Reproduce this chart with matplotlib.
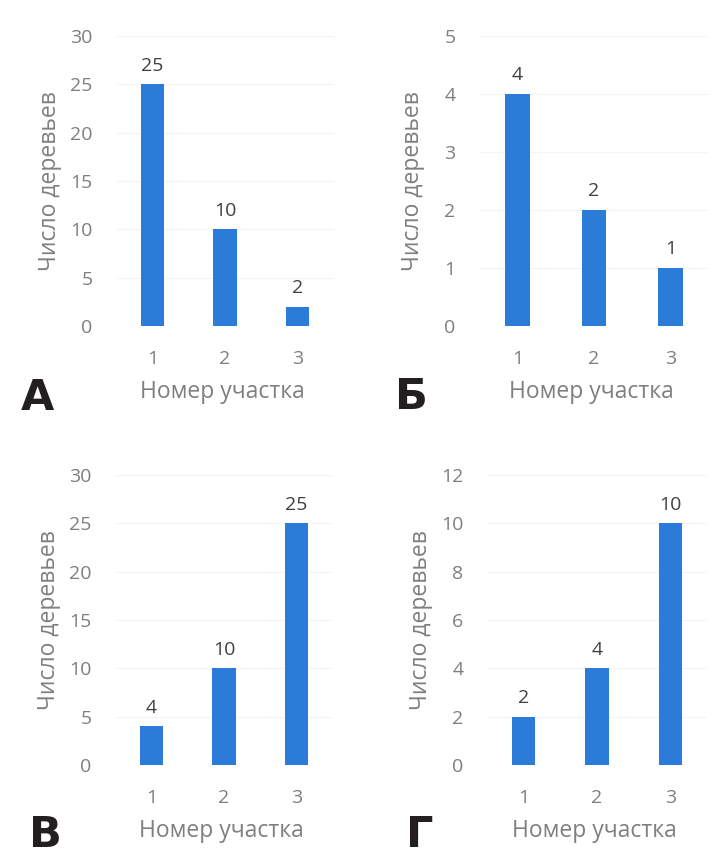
import matplotlib.pyplot as plt

plt.rcParams['font.family'] = ['Open Sans', 'DejaVu Sans']

# data
plots = ['1', '2', '3']
trees_a = [25, 10, 2]
trees_b = [4, 2, 1]
trees_v = [4, 10, 25]
trees_g = [2, 4, 10]
ymax_a, ymax_b, ymax_v, ymax_g = 30, 5, 30, 12
step_a, step_b, step_v, step_g = 5, 1, 5, 2
letters = ['А', 'Б', 'В', 'Г']

BAR = '#2b7bd9'
GRAY = '#7f7f7f'
W, H = 722, 865

fig = plt.figure(figsize=(W / 100, H / 100), dpi=100)
fig.patch.set_facecolor('white')

# pixel boxes: left, right, top(y of ymax), bottom(y of 0)
panels = [
    (trees_a, ymax_a, step_a, (116, 334, 36, 326), (37, 398)),
    (trees_b, ymax_b, step_b, (479, 709, 36, 326), (411, 397)),
    (trees_v, ymax_v, step_v, (115, 333, 475, 765), (45, 835)),
    (trees_g, ymax_g, step_g, (487, 707, 475, 765), (420, 835)),
]

for (vals, ymax, step, box, lpos), letter in zip(panels, letters):
    l, r, t, b = box
    ax = fig.add_axes([l / W, 1 - b / H, (r - l) / W, (b - t) / H])
    x = range(len(plots))
    bars = ax.bar(x, vals, width=0.32, color=BAR, zorder=3)
    ax.bar_label(bars, labels=[str(v) for v in vals], padding=7,
                 fontsize=14, color='#404040')
    ax.set_xlim(-0.5, 2.5)
    ax.set_ylim(0, ymax)
    ax.set_yticks(range(0, ymax + 1, step))
    ax.set_xticks(list(x))
    ax.set_xticklabels(plots)
    ax.tick_params(length=0, labelsize=14, labelcolor=GRAY)
    ax.tick_params(axis='y', pad=17)
    ax.tick_params(axis='x', pad=17)
    ax.grid(axis='y', color='#f4f4f4', lw=0.8, zorder=0)
    for s in ax.spines.values():
        s.set_visible(False)
    ax.set_ylabel('Число деревьев', fontsize=16.5, color=GRAY)
    ax.set_xlabel('Номер участка', fontsize=16.5, color=GRAY)
    ax.yaxis.set_label_coords(-66 / (r - l), 0.5)
    ax.yaxis.label.set_va('center')
    ax.xaxis.set_label_coords(0.49, -66 / (b - t))
    ax.xaxis.label.set_va('center')
    fig.text(lpos[0] / W, 1 - lpos[1] / H, letter, fontsize=31,
             fontweight='bold', color='#231f20', ha='center', va='center',
             family=['DejaVu Sans'])

fig.savefig('out.png', dpi=100)
